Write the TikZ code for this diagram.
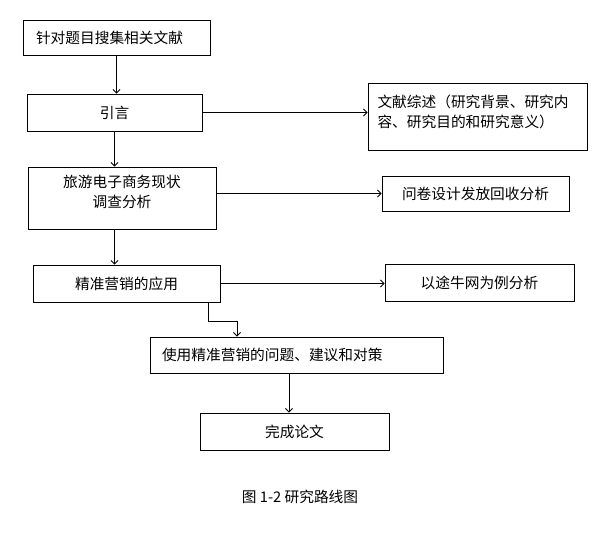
\documentclass[tikz,border=0pt]{standalone}
\usepackage{fontspec}
\setmainfont{Noto Sans CJK SC}
\usetikzlibrary{arrows.meta}
\begin{document}
\begin{tikzpicture}[x=1pt,y=-1pt,line width=0.9pt,
	box/.style={draw,minimum height=37pt,inner sep=0pt,font=\fontsize{14.7}{20}\selectfont},
	arr/.style={-{Straight Barb[length=3.5pt,width=7pt]}}]
	\useasboundingbox (0,0) rectangle (608,542);
	% left column
	\node[box,minimum width=187pt,minimum height=35pt,text width=161pt,align=left] (b1) at (116.5,37.5) {针对题目搜集相关文献};
	\node[box,minimum width=175pt] (b2) at (114.5,112.5) {引言};
	\node[box,minimum width=188pt,minimum height=62pt,align=center] (b3) at (122,198) {旅游电子商务现状\\调查分析\\[-6pt]\mbox{}};
	\node[box,minimum width=187pt] (b4) at (126.5,283.5) {精准营销的应用};
	\node[box,minimum width=293pt,minimum height=36pt,text width=269pt,align=left] (b5) at (296.5,355) {使用精准营销的问题、建议和对策};
	\node[box,minimum width=189pt] (b6) at (294.5,431.5) {完成论文};
	% right column
	\node[box,minimum width=219pt,minimum height=67pt,text width=200pt,align=left] (lit) at (477.5,116.5) {文献综述（研究背景、研究内\\容、研究目的和研究意义）\\[-10pt]\mbox{}};
	\node[box,minimum width=187pt,minimum height=35pt] (q) at (475.5,193.5) {问卷设计发放回收分析};
	\node[box,minimum width=189pt] (tn) at (479.5,282.5) {以途牛网为例分析};
	\node[font=\fontsize{14.7}{20}\selectfont] (cap) at (300,497) {图 1-2 研究路线图};
	% connectors
	\draw[arr] (b1.south) -- (b1.south |- b2.north);
	\draw[arr] (b2.south) -- (b2.south |- b3.north);
	\draw[arr] (b3.south -| b2.south) -- (b2.south |- b4.north);
	\draw[arr] (b2.east) -- (b2.east -| lit.west);
	\draw[arr] (q.west -| b3.east) -- (q.west);
	\draw[arr] (b4.east) -- (b4.east -| tn.west);
	\draw[arr] ([xshift=81.5pt]b4.south) -- ++(0,19) -| ([xshift=-59.5pt]b5.north);
	\draw[arr] ([xshift=-7.5pt]b5.south) -- ([xshift=-5.5pt]b6.north);
\end{tikzpicture}
\end{document}
